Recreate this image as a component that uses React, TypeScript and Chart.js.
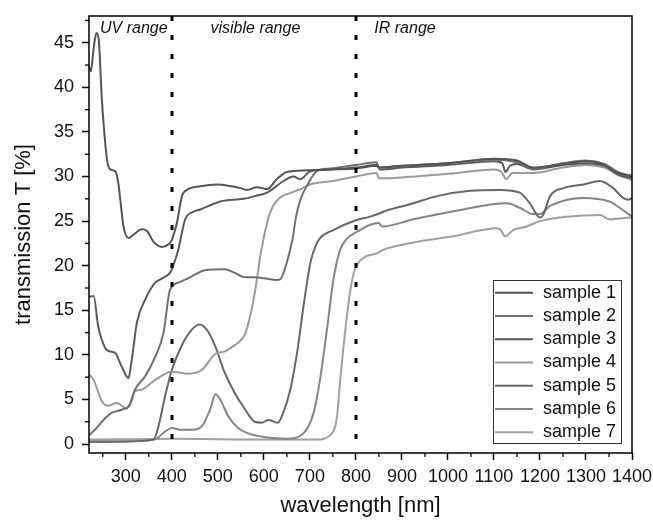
import React, { useEffect, useRef } from "react";
import { Chart, registerables } from "chart.js";

Chart.register(...registerables);

// ---------- data ----------
const sampleNames = ["sample 1", "sample 2", "sample 3", "sample 4", "sample 5", "sample 6", "sample 7"];

// sample 1
const s1Wavelength = [220, 224, 230, 236, 241, 248, 254, 259, 266, 277, 283, 288, 295, 306, 317, 335, 346, 360, 379, 393, 400, 404, 411, 422, 433, 462, 498, 530, 549, 563, 585, 607, 628, 650, 694, 744, 800, 846, 850, 900, 1000, 1100, 1150, 1185, 1250, 1300, 1330, 1370, 1400];
const s1Transmission = [42.3, 41.8, 44.3, 46.1, 45.4, 38.6, 34.5, 31.9, 30.8, 30.6, 29.5, 27.4, 24.4, 23.1, 23.5, 24.1, 23.9, 22.7, 22.1, 22.4, 22.9, 23.5, 24.8, 27.8, 28.5, 28.9, 29.1, 28.9, 28.7, 28.5, 28.8, 28.6, 29.7, 30.5, 30.7, 30.8, 31.0, 31.3, 31.0, 31.2, 31.5, 32.0, 31.8, 31.0, 31.4, 31.7, 31.5, 30.4, 30.0];

// sample 2
const s2Wavelength = [220, 233, 255, 269, 291, 309, 320, 342, 364, 382, 396, 414, 436, 472, 515, 537, 559, 577, 600, 628, 636, 642, 650, 657, 662, 670, 680, 693, 715, 744, 800, 845, 850, 900, 1000, 1100, 1150, 1185, 1250, 1300, 1340, 1370, 1400];
const s2Transmission = [1.0, 1.6, 2.9, 3.5, 3.85, 4.4, 6.1, 7.6, 9.8, 12.5, 17.3, 18.1, 18.6, 19.5, 19.6, 19.2, 18.7, 18.7, 18.6, 18.4, 18.5, 19.1, 20.4, 21.8, 22.9, 25.5, 27.5, 28.9, 30.6, 30.9, 31.3, 31.6, 31.0, 31.2, 31.5, 31.9, 31.6, 30.9, 31.5, 31.8, 31.4, 30.5, 30.1];

// sample 3
const s3Wavelength = [220, 230, 240, 255, 265, 277, 291, 306, 311, 316, 324, 342, 364, 380, 396, 400, 405, 414, 429, 445, 462, 505, 556, 580, 607, 643, 664, 679, 701, 744, 800, 846, 852, 900, 1000, 1100, 1118, 1125, 1135, 1150, 1185, 1250, 1300, 1340, 1370, 1400];
const s3Transmission = [16.5, 16.6, 13.2, 10.8, 10.4, 10.2, 8.7, 7.4, 8.8, 10.6, 13.6, 16.2, 18.1, 18.6, 19.2, 19.6, 20.3, 21.8, 25.2, 26.0, 26.3, 27.2, 27.5, 27.8, 28.2, 29.5, 30.0, 29.7, 30.6, 30.8, 30.9, 31.2, 30.8, 31.0, 31.3, 31.7, 31.5, 30.5, 31.2, 31.4, 30.8, 31.3, 31.5, 31.2, 30.2, 29.8];

// sample 4
const s4Wavelength = [220, 230, 248, 262, 280, 302, 320, 334, 364, 400, 436, 465, 494, 515, 537, 549, 559, 566, 575, 585, 592, 600, 610, 620, 630, 640, 660, 680, 700, 750, 800, 845, 850, 900, 1000, 1100, 1115, 1127, 1140, 1185, 1250, 1300, 1340, 1370, 1400];
const s4Transmission = [7.8, 7.2, 4.8, 4.3, 4.6, 4.0, 5.9, 6.1, 7.2, 8.1, 7.9, 8.3, 10.1, 10.4, 11.1, 11.6, 12.3, 13.5, 15.5, 18.5, 21.0, 23.2, 25.4, 26.7, 27.4, 27.8, 28.2, 28.6, 29.1, 29.5, 30.0, 30.4, 29.8, 29.9, 30.3, 30.8, 30.6, 29.7, 30.4, 30.4, 31.0, 31.3, 31.0, 30.2, 29.6];

// sample 5
const s5Wavelength = [220, 300, 360, 371, 385, 400, 421, 443, 461, 479, 494, 515, 537, 559, 580, 595, 610, 630, 642, 657, 672, 686, 701, 712, 722, 751, 800, 831, 874, 925, 976, 1048, 1113, 1156, 1178, 1200, 1207, 1222, 1251, 1294, 1330, 1359, 1381, 1392, 1400];
const s5Transmission = [0.3, 0.3, 0.5, 2.0, 5.3, 8.3, 11.0, 12.8, 13.4, 12.6, 11.0, 8.0, 5.7, 3.9, 2.5, 2.4, 2.7, 2.4, 3.5, 6.0, 10.2, 15.4, 20.3, 22.2, 23.1, 24.0, 25.1, 25.5, 26.3, 27.0, 27.8, 28.4, 28.5, 28.2, 27.0, 25.4, 25.7, 27.8, 28.7, 29.1, 29.5, 28.7, 27.6, 27.4, 27.6];

// sample 6
const s6Wavelength = [220, 300, 362, 385, 400, 421, 443, 465, 483, 495, 505, 523, 544, 566, 600, 650, 686, 708, 722, 737, 751, 766, 780, 809, 831, 849, 857, 925, 1012, 1128, 1156, 1185, 1200, 1222, 1294, 1351, 1373, 1400];
const s6Transmission = [0.2, 0.3, 0.5, 1.4, 1.8, 1.6, 1.6, 2.0, 3.85, 5.6, 5.0, 3.1, 1.8, 1.2, 0.8, 0.6, 1.2, 3.5, 7.2, 12.8, 18.4, 21.8, 23.0, 24.0, 24.6, 24.8, 24.4, 25.2, 26.1, 27.0, 26.5, 25.8, 25.8, 26.7, 27.6, 27.2, 26.5, 25.5];

// sample 7
const s7Wavelength = [220, 400, 600, 700, 715, 744, 759, 766, 777, 788, 798, 817, 846, 860, 925, 1012, 1106, 1115, 1124, 1142, 1171, 1200, 1258, 1330, 1351, 1373, 1400];
const s7Transmission = [0.5, 0.6, 0.5, 0.5, 0.5, 1.0, 3.1, 7.2, 12.8, 17.3, 19.6, 20.9, 21.4, 21.8, 22.6, 23.3, 24.2, 24.0, 23.3, 24.0, 24.4, 25.0, 25.5, 25.7, 25.2, 25.3, 25.4];

const xTickValues = [300, 400, 500, 600, 700, 800, 900, 1000, 1100, 1200, 1300, 1400];
const xMinorTickValues = [250, 350, 450, 550, 650, 750, 850, 950, 1050, 1150, 1250, 1350];
const yTickValues = [0, 5, 10, 15, 20, 25, 30, 35, 40, 45];
const yMinorTickValues = [2.5, 7.5, 12.5, 17.5, 22.5, 27.5, 32.5, 37.5, 42.5, 47.5];

const rangeBoundaries = [400, 800];
const rangeLabels = ["UV range", "visible range", "IR range"];
const rangeLabelAnchors = [244, 484, 840];

const xTitle = "wavelength [nm]";
const yTitle = "transmission T [%]";

// ---------- styles ----------
const sampleColors = ["#545454", "#6f6f6f", "#5a5a5a", "#9a9a9a", "#676767", "#858585", "#a0a0a0"];
const FONT = "'Liberation Sans', Arial, Helvetica, sans-serif";

const seriesWavelengths = [s1Wavelength, s2Wavelength, s3Wavelength, s4Wavelength, s5Wavelength, s6Wavelength, s7Wavelength];
const seriesTransmissions = [s1Transmission, s2Transmission, s3Transmission, s4Transmission, s5Transmission, s6Transmission, s7Transmission];

const overlayPlugin = {
  id: "overlay",
  afterDatasetsDraw(chart: any) {
    const { ctx, chartArea: a, scales } = chart;
    const xs = scales.x;
    const ys = scales.y;
    ctx.save();

    // dotted range separators
    ctx.strokeStyle = "#000";
    ctx.lineWidth = 3;
    ctx.setLineDash([5, 14]);
    rangeBoundaries.forEach((v) => {
      const px = Math.round(xs.getPixelForValue(v));
      ctx.beginPath();
      ctx.moveTo(px, a.top);
      ctx.lineTo(px, a.bottom - 5);
      ctx.stroke();
    });
    ctx.setLineDash([]);

    // frame
    ctx.lineWidth = 1.5;
    ctx.strokeStyle = "#000";
    ctx.strokeRect(a.left, a.top, a.right - a.left, a.bottom - a.top);

    // minor ticks
    ctx.lineWidth = 1.3;
    xMinorTickValues.forEach((v) => {
      const px = xs.getPixelForValue(v);
      ctx.beginPath();
      ctx.moveTo(px, a.bottom);
      ctx.lineTo(px, a.bottom + 4);
      ctx.stroke();
    });
    yMinorTickValues.forEach((v) => {
      const py = ys.getPixelForValue(v);
      ctx.beginPath();
      ctx.moveTo(a.left, py);
      ctx.lineTo(a.left - 4, py);
      ctx.stroke();
    });

    // range labels
    ctx.font = `italic 16px ${FONT}`;
    ctx.fillStyle = "#111";
    ctx.textAlign = "left";
    ctx.textBaseline = "alphabetic";
    rangeLabels.forEach((t, i) => {
      ctx.fillText(t, xs.getPixelForValue(rangeLabelAnchors[i]), a.top + 17);
    });

    // legend box
    const lw = 128;
    const lh = 163;
    const lx = a.right - 11 - lw;
    const ly = a.bottom - 10 - lh;
    ctx.fillStyle = "#fff";
    ctx.fillRect(lx, ly, lw, lh);
    ctx.strokeStyle = "#333";
    ctx.lineWidth = 1;
    ctx.strokeRect(lx + 0.5, ly + 0.5, lw, lh);
    const rowH = lh / sampleNames.length;
    ctx.font = `18px ${FONT}`;
    ctx.textBaseline = "middle";
    sampleNames.forEach((name, i) => {
      const cy = ly + rowH * (i + 0.5) + 1;
      ctx.strokeStyle = sampleColors[i];
      ctx.lineWidth = 2;
      ctx.beginPath();
      ctx.moveTo(lx + 2, cy);
      ctx.lineTo(lx + 40, cy);
      ctx.stroke();
      ctx.fillStyle = "#111";
      ctx.fillText(name, lx + 50, cy);
    });

    ctx.restore();
  },
};

export default function App() {
  const canvasRef = useRef<HTMLCanvasElement | null>(null);

  useEffect(() => {
    if (!canvasRef.current) return;
    const datasets = sampleNames.map((name, i) => ({
      label: name,
      data: seriesWavelengths[i].map((x, j) => ({ x, y: seriesTransmissions[i][j] })),
      borderColor: sampleColors[i],
      backgroundColor: sampleColors[i],
      borderWidth: 2,
      pointRadius: 0,
      fill: false,
      cubicInterpolationMode: "monotone" as const,
    }));

    const chart = new Chart(canvasRef.current, {
      type: "line",
      data: { datasets },
      plugins: [overlayPlugin],
      options: {
        animation: false,
        responsive: false,
        devicePixelRatio: 1,
        layout: { padding: { top: 16, right: 21, left: 0, bottom: 0 } },
        plugins: {
          legend: { display: false },
          tooltip: { enabled: false },
        },
        scales: {
          x: {
            type: "linear",
            min: 220,
            max: 1400,
            afterBuildTicks: (s: any) => {
              s.ticks = xTickValues.map((value) => ({ value }));
            },
            afterFit: (s: any) => {
              s.height = 68;
              s.paddingLeft = 0;
              s.paddingRight = 0;
            },
            border: { display: false },
            grid: {
              drawOnChartArea: false,
              drawTicks: true,
              tickLength: 7,
              tickColor: "#000",
              tickWidth: 1.5,
            },
            ticks: {
              autoSkip: false,
              maxRotation: 0,
              padding: 6,
              color: "#111",
              font: { family: FONT, size: 18 },
              callback: (v: any) => String(v),
            },
            title: {
              display: true,
              text: xTitle,
              color: "#111",
              font: { family: FONT, size: 22 },
              padding: { top: 0, bottom: 2 },
            },
          },
          y: {
            type: "linear",
            min: -1,
            max: 48,
            afterBuildTicks: (s: any) => {
              s.ticks = yTickValues.map((value) => ({ value }));
            },
            afterFit: (s: any) => {
              s.width = 89;
              s.paddingTop = 0;
              s.paddingBottom = 0;
            },
            border: { display: false },
            grid: {
              drawOnChartArea: false,
              drawTicks: true,
              tickLength: 7,
              tickColor: "#000",
              tickWidth: 1.5,
            },
            ticks: {
              padding: 8,
              color: "#111",
              font: { family: FONT, size: 18 },
              callback: (v: any) => String(v),
            },
            title: {
              display: true,
              text: yTitle,
              color: "#111",
              font: { family: FONT, size: 22 },
              padding: { top: 11, bottom: 0 },
            },
          },
        },
      },
    });
    return () => chart.destroy();
  }, []);

  return (
    <div style={{ position: "fixed", left: 0, top: 0, width: 653, height: 521, background: "#fff" }}>
      <canvas ref={canvasRef} width={653} height={521} style={{ display: "block" }} />
    </div>
  );
}
